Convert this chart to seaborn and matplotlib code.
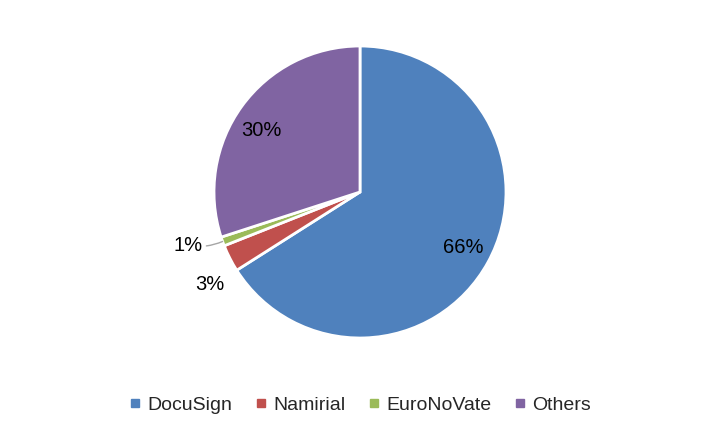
import numpy as np
import matplotlib
matplotlib.use("Agg")
import matplotlib.pyplot as plt
from matplotlib.lines import Line2D
import seaborn as sns

# data
vendors = ["DocuSign", "Namirial", "EuroNoVate", "Others"]
shares = [66, 3, 1, 30]
colors = ["#4F81BD", "#C0504D", "#9BBB59", "#8064A2"]

sns.set_theme(style="white")
plt.rcParams['font.family'] = ['Liberation Sans', 'DejaVu Sans']

fig = plt.figure(figsize=(7.2, 4.32), dpi=100)
# square axes, pie centre at (360, 192) px, radius 146 px
ax = fig.add_axes([160 / 720, 40 / 432, 400 / 720, 400 / 432])
lim = 200 / 146
wedges, _ = ax.pie(shares, colors=colors, startangle=90, counterclock=False,
                   radius=1.0, wedgeprops=dict(edgecolor="white", linewidth=2))
ax.set_xlim(-lim, lim)
ax.set_ylim(-lim, lim)
ax.set_aspect("equal")
ax.axis("off")

# label placement: (distance, angle shift in degrees)
label_pos = [(0.80, 0.5), (1.21, 4.5), (1.23, -2.5), (0.80, 4.0)]
for w, v, (d, shift) in zip(wedges, shares, label_pos):
    mid = np.deg2rad((w.theta1 + w.theta2) / 2 + shift)
    x, y = d * np.cos(mid), d * np.sin(mid)
    if v == 1:
        edge = np.deg2rad((w.theta1 + w.theta2) / 2)
        ax.annotate(f"{v}%", xy=(np.cos(edge), np.sin(edge)), xytext=(x, y),
                    ha="center", va="center", fontsize=14.5, color="black",
                    arrowprops=dict(arrowstyle="-", color="#A6A6A6", lw=1,
                                    shrinkA=13, shrinkB=0,
                                    connectionstyle="arc3,rad=0.15"))
    else:
        ax.text(x, y, f"{v}%", ha="center", va="center", fontsize=14.5, color="black")

handles = [Line2D([], [], marker="s", linestyle="none", markersize=5.5,
                  markerfacecolor=c, markeredgecolor=c) for c in colors]
fig.legend(handles, vendors, loc="center", bbox_to_anchor=(0.5, 1 - 405 / 432),
           ncol=4, frameon=False, fontsize=14, handlelength=0.6,
           handletextpad=0.35, columnspacing=1.15)

fig.savefig("out.png", dpi=100)
